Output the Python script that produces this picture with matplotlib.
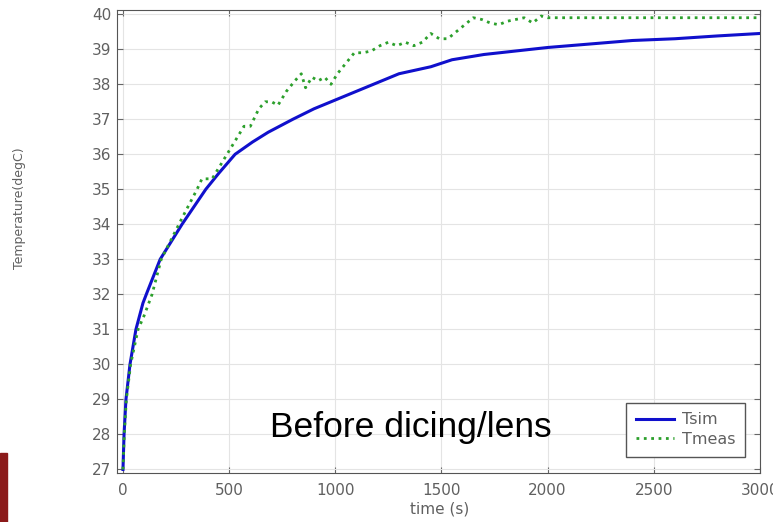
import matplotlib
matplotlib.use("Agg")
import matplotlib.pyplot as plt
import matplotlib.patches as mpatches

# simulated temperature (smooth curve)
T_SIM_TIME = [0, 5, 14, 33, 61, 94, 113, 175, 278, 390, 450, 528, 610, 684, 800, 900,
              1000, 1100, 1200, 1300, 1450, 1550, 1700, 1850, 2000, 2200, 2400, 2600,
              2800, 3000]
T_SIM = [27.0, 28.0, 29.0, 30.0, 31.0, 31.75, 32.05, 33.0, 34.0, 35.0, 35.45, 36.0, 36.35,
         36.63, 37.0, 37.3, 37.55, 37.8, 38.05, 38.3, 38.5, 38.7, 38.85, 38.95, 39.05,
         39.15, 39.25, 39.3, 39.38, 39.45]

# measured temperature (noisy dotted curve)
T_MEAS_TIME = [0, 6, 16, 36, 71, 100, 137, 180, 230, 280, 349, 372, 420, 450, 490, 530,
               570, 600, 640, 670, 700, 730, 770, 810, 840, 860, 890, 920, 950, 980,
               1010, 1050, 1090, 1130, 1170, 1210, 1250, 1290, 1330, 1370, 1410, 1450,
               1490, 1530, 1570, 1610, 1650, 1690, 1730, 1770, 1810, 1850, 1890, 1930,
               1970, 2000, 2250, 2500, 2750, 3000]
T_MEAS = [27.0, 28.0, 29.0, 30.0, 31.0, 31.4, 32.0, 33.0, 33.6, 34.2, 35.0, 35.3, 35.3,
          35.6, 36.0, 36.4, 36.8, 36.8, 37.3, 37.5, 37.5, 37.4, 37.8, 38.1, 38.3, 37.9,
          38.2, 38.1, 38.2, 38.0, 38.3, 38.6, 38.9, 38.9, 38.95, 39.1, 39.2, 39.1, 39.2,
          39.1, 39.2, 39.45, 39.3, 39.3, 39.5, 39.7, 39.9, 39.85, 39.75, 39.7, 39.8,
          39.85, 39.9, 39.75, 39.95, 39.9, 39.9, 39.9, 39.9, 39.9]

X_TICKS = [0, 500, 1000, 1500, 2000, 2500, 3000]
Y_TICKS = list(range(27, 41))

GRAY = "#606060"

plt.rcParams["font.family"] = ["DejaVu Sans"]

fig = plt.figure(figsize=(7.73, 5.22), dpi=100)
ax = fig.add_axes([0.1514, 0.0939, 0.8316, 0.8869])

ax.plot(T_SIM_TIME, T_SIM, color="#1010cc", linewidth=2.2, label="Tsim")
ax.plot(T_MEAS_TIME, T_MEAS, color="#2ca02c", linewidth=2.0, linestyle=":", label="Tmeas")

ax.set_xlim(-28, 3000)
ax.set_ylim(26.9, 40.12)
ax.set_xticks(X_TICKS)
ax.set_yticks(Y_TICKS)
ax.grid(True, color="#e4e4e4", linewidth=0.8)
ax.tick_params(direction="in", top=True, right=True, labelsize=11,
               labelcolor=GRAY, color="#666666", length=4)
ax.tick_params(axis="x", pad=7)
ax.tick_params(axis="y", pad=4)
for spine in ax.spines.values():
    spine.set_color("#555555")

ax.set_xlabel("time (s)", fontsize=11, color=GRAY, va="center")
ax.xaxis.set_label_coords(0.502, -0.078)
ax.set_ylabel("Temperature(degC)", fontsize=9, color=GRAY, va="center")
ax.yaxis.set_label_coords(-0.152, 0.572)

ax.text(1354, 27.93, "Before dicing/lens", fontsize=25.5, color="black",
        ha="center", va="baseline", family="Liberation Sans")

leg = ax.legend(loc="lower right", bbox_to_anchor=(0.99, 0.018), fontsize=11.5,
                fancybox=False, framealpha=1, edgecolor="#555555",
                handlelength=2.4, borderpad=0.6, labelspacing=0.3,
                handletextpad=0.5)
for t in leg.get_texts():
    t.set_color(GRAY)

fig.patches.append(mpatches.Rectangle((0, 0), 7 / 773, 69 / 522,
                                      transform=fig.transFigure,
                                      color="#8b1a1a", zorder=5))

fig.savefig("out.png", dpi=100)
